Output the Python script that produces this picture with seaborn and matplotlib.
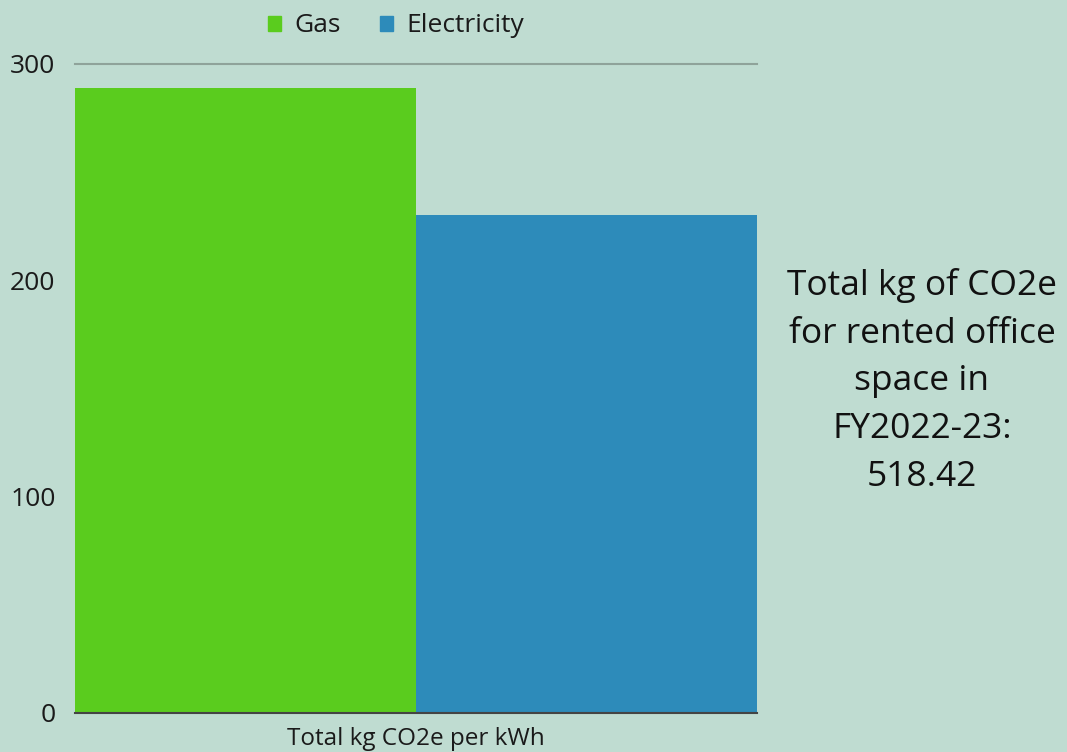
import matplotlib
matplotlib.use("Agg")
import matplotlib.pyplot as plt
import seaborn as sns
import pandas as pd

categories = ["Total kg CO2e per kWh", "Total kg CO2e per kWh"]
series = ["Gas", "Electricity"]
values = [288.7, 230.4]
yticks = [0, 100, 200, 300]
side_text = "Total kg of CO2e\nfor rented office\nspace in\nFY2022-23:\n518.42"

bg = "#bfdcd1"
colors = {"Gas": "#5acc1e", "Electricity": "#2d8bba"}

sns.set_theme(style="white")
plt.rcParams["font.family"] = ["Open Sans", "DejaVu Sans"]

df = pd.DataFrame({"cat": categories, "series": series, "value": values})

fig = plt.figure(figsize=(10.67, 7.52), dpi=100, facecolor=bg)
ax = fig.add_axes([75 / 1067, 1 - 713 / 752, (757 - 75) / 1067, (713 - 64) / 752])
ax.set_facecolor(bg)

sns.barplot(data=df, x="cat", y="value", hue="series", palette=colors,
            width=1.0, saturation=1, ax=ax, legend=False)
for p in ax.patches:
    p.set_edgecolor("none")

ax.set_xlim(-0.5, 0.5)
ax.set_ylim(0, 300)
ax.set_yticks(yticks)
ax.set_yticklabels([str(t) for t in yticks], fontsize=19, color="#1a1a1a")
ax.tick_params(axis="y", length=0, pad=14)
ax.tick_params(axis="x", length=0, pad=10, labelsize=17.5, labelcolor="#1a1a1a")
ax.set_xlabel("")
ax.set_ylabel("")

for s in ["left", "right"]:
    ax.spines[s].set_visible(False)
ax.spines["top"].set_color("#8fa39a")
ax.spines["top"].set_linewidth(1.5)
ax.spines["bottom"].set_color("#444444")
ax.spines["bottom"].set_linewidth(1.5)

handles = [plt.Rectangle((0, 0), 1, 1, color=colors[s]) for s in series]
fig.legend(handles, series, loc="center", bbox_to_anchor=(396 / 1067, 1 - 26 / 752),
           ncol=2, frameon=False, fontsize=19, handlelength=0.5, handleheight=0.5,
           handletextpad=0.5, columnspacing=1.5, labelcolor="#1a1a1a")

fig.text(922 / 1067, 1 - 381 / 752, side_text, ha="center", va="center",
         fontsize=25.5, linespacing=1.52, color="#111111",
         family=["Open Sans", "DejaVu Sans"])

fig.savefig("out.png", dpi=100, facecolor=bg)
